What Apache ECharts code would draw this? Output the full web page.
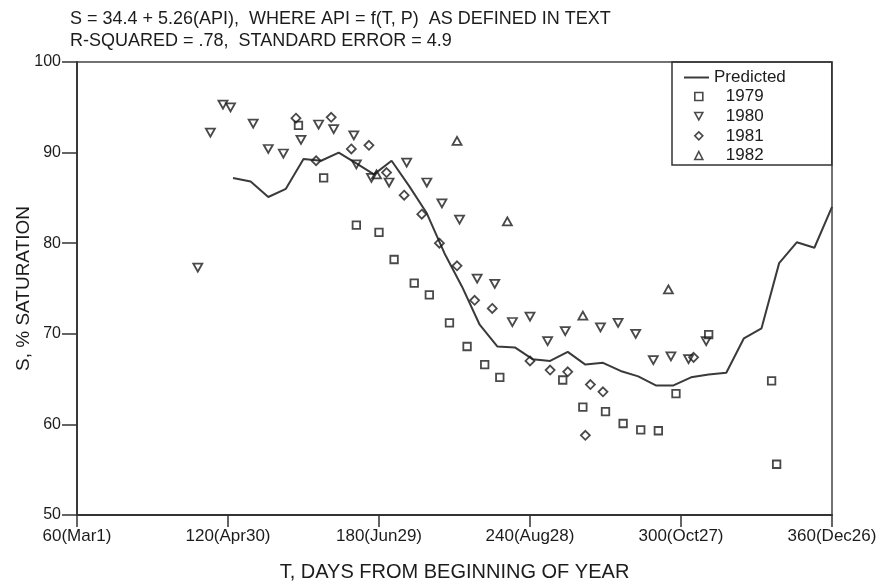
<!DOCTYPE html>
<html><head><meta charset="utf-8">
<script src="https://cdn.jsdelivr.net/npm/echarts@6/dist/echarts.min.js"></script>
<style>html,body{margin:0;padding:0;background:#fff}#c{width:880px;height:582px}</style>
</head><body><div id="c"></div>
<script>
const titleLines = ['S = 34.4 + 5.26(API),  WHERE API = f(T, P)  AS DEFINED IN TEXT', 'R-SQUARED = .78,  STANDARD ERROR = 4.9'];
const xAxisName = 'T, DAYS FROM BEGINNING OF YEAR';
const yAxisName = 'S, % SATURATION';
const xTickValues = [60, 120, 180, 240, 300, 360];
const xTickLabels = ['60(Mar1)', '120(Apr30)', '180(Jun29)', '240(Aug28)', '300(Oct27)', '360(Dec26)'];

const predictedDays = [122,129,136,143,150,157,164,171,178,185,192,199,206,213,220,227,234,241,248,255,262,269,276,283,290,297,304,311,318,325,332,339,346,353,360];
const predictedValues = [87.2,86.8,85.1,86.0,89.3,89.1,90.0,88.8,87.6,89.1,86.3,83.3,78.9,75.2,71.0,68.6,68.5,67.2,67.0,68.0,66.6,66.8,65.9,65.3,64.3,64.3,65.2,65.5,65.7,69.5,70.6,77.8,80.1,79.5,84.0];

const days1979 = [148,158,171,180,186,194,200,208,215,222,228,253,261,270,277,284,291,298,311,336,338];
const sat1979  = [93.0,87.2,82.0,81.2,78.2,75.6,74.3,71.2,68.6,66.6,65.2,64.9,61.9,61.4,60.1,59.4,59.3,63.4,69.9,64.8,55.6];

const days1980 = [108,113,118,121,130,136,142,149,156,162,170,171,177,184,191,199,205,212,219,226,233,240,247,254,268,275,282,289,296,303,310];
const sat1980  = [77.3,92.2,95.3,95.0,93.2,90.4,89.9,91.4,93.1,92.6,91.9,88.7,87.2,86.7,88.9,86.7,84.4,82.6,76.1,75.5,71.3,71.9,69.2,70.3,70.7,71.2,70.0,67.1,67.5,67.2,69.2];

const days1981 = [147,155,161,169,176,183,190,197,204,211,218,225,240,248,255,262,264,269,305];
const sat1981  = [93.8,89.1,93.9,90.4,90.8,87.8,85.3,83.2,80.0,77.5,73.7,72.8,67.0,66.0,65.8,58.8,64.4,63.6,67.4];

const days1982 = [179,211,231,261,295];
const sat1982  = [87.6,91.3,82.4,72.0,74.9];

const zip = (a, b) => a.map((v, i) => [v, b[i]]);
const FONT = 'Liberation Sans';
const INK = '#1c1c1c';
const hollow = { color: 'rgba(255,255,255,0)', borderColor: INK, borderWidth: 1.8 };
const DOWN_TRI = 'path://M0 0 L10 0 L5 9 Z';
const LINE_ICON = 'path://M0 0 L25 0 L25 2 L0 2 Z';

const chart = echarts.init(document.getElementById('c'), null, { renderer: 'canvas' });
chart.setOption({
  animation: false,
  backgroundColor: '#fff',
  textStyle: { fontFamily: FONT, color: INK },
  title: {
    text: titleLines.join('\n'), left: 70, top: 8, padding: 0,
    textStyle: { fontFamily: FONT, fontSize: 18, fontWeight: 'normal', color: INK, lineHeight: 22 }
  },
  grid: { left: 77, right: 48, top: 62, bottom: 67, show: true, borderColor: '#444', borderWidth: 1.5,
    backgroundColor: 'transparent', containLabel: false, outerBoundsMode: 'none' },
  legend: [
    {
      data: [{ name: 'Predicted', icon: LINE_ICON }], orient: 'vertical', left: 672, top: 62,
      padding: [7, 46, 79, 12], itemWidth: 25, itemHeight: 14,
      borderColor: '#333', borderWidth: 1.5, selectedMode: false,
      textStyle: { fontFamily: FONT, fontSize: 17, color: INK, lineHeight: 16 }
    },
    {
      data: ['1979', { name: '1980', icon: DOWN_TRI }, '1981', '1982'], orient: 'vertical', left: 694, top: 88,
      padding: 0, itemWidth: 8, itemHeight: 8, itemGap: 2.67, selectedMode: false,
      itemStyle: { borderWidth: 1.6 },
      formatter: n => '{a|' + n + '}',
      textStyle: { fontFamily: FONT, fontSize: 17, color: INK, lineHeight: 16,
        rich: { a: { fontFamily: FONT, fontSize: 17, color: INK, lineHeight: 16, padding: [0, 0, 0, 18] } } }
    }
  ],
  xAxis: {
    type: 'value', min: 60, max: 360, interval: 60,
    name: xAxisName, nameLocation: 'middle', nameGap: 47, nameMoveOverlap: false,
    nameTextStyle: { fontFamily: FONT, fontSize: 20, color: INK },
    axisLine: { lineStyle: { color: '#333', width: 1.8 } },
    axisTick: { show: true, length: 12, lineStyle: { color: '#333', width: 1.5 } },
    axisLabel: { fontFamily: FONT, fontSize: 17, color: INK, margin: 13, showMinLabel: true, showMaxLabel: true,
      formatter: v => { const i = xTickValues.indexOf(v); return i >= 0 ? xTickLabels[i] : ''; } },
    splitLine: { show: false }
  },
  yAxis: {
    type: 'value', min: 50, max: 100, interval: 10,
    name: yAxisName, nameLocation: 'middle', nameGap: 44, nameRotate: 90, nameMoveOverlap: false,
    nameTextStyle: { fontFamily: FONT, fontSize: 19, color: INK },
    axisLine: { lineStyle: { color: '#333', width: 1.8 } },
    axisTick: { show: true, length: 15, lineStyle: { color: '#333', width: 1.5 } },
    axisLabel: { fontFamily: FONT, fontSize: 16, color: INK, margin: 16 },
    splitLine: { show: false }
  },
  series: [
    { name: 'Predicted', type: 'line', data: zip(predictedDays, predictedValues), symbol: 'none', showSymbol: false,
      lineStyle: { color: '#3a3a3a', width: 2 }, itemStyle: { color: '#3a3a3a' }, z: 2 },
    { name: '1979', type: 'scatter', data: zip(days1979, sat1979), symbol: 'rect', symbolSize: 7.5, itemStyle: hollow, z: 3 },
    { name: '1980', type: 'scatter', data: zip(days1980, sat1980), symbol: 'triangle', symbolRotate: 180, symbolSize: [9, 8], itemStyle: hollow, z: 3 },
    { name: '1981', type: 'scatter', data: zip(days1981, sat1981), symbol: 'diamond', symbolSize: [9, 9], itemStyle: hollow, z: 3 },
    { name: '1982', type: 'scatter', data: zip(days1982, sat1982), symbol: 'triangle', symbolSize: [9, 8], itemStyle: hollow, z: 3 }
  ]
});
</script>
</body></html>
